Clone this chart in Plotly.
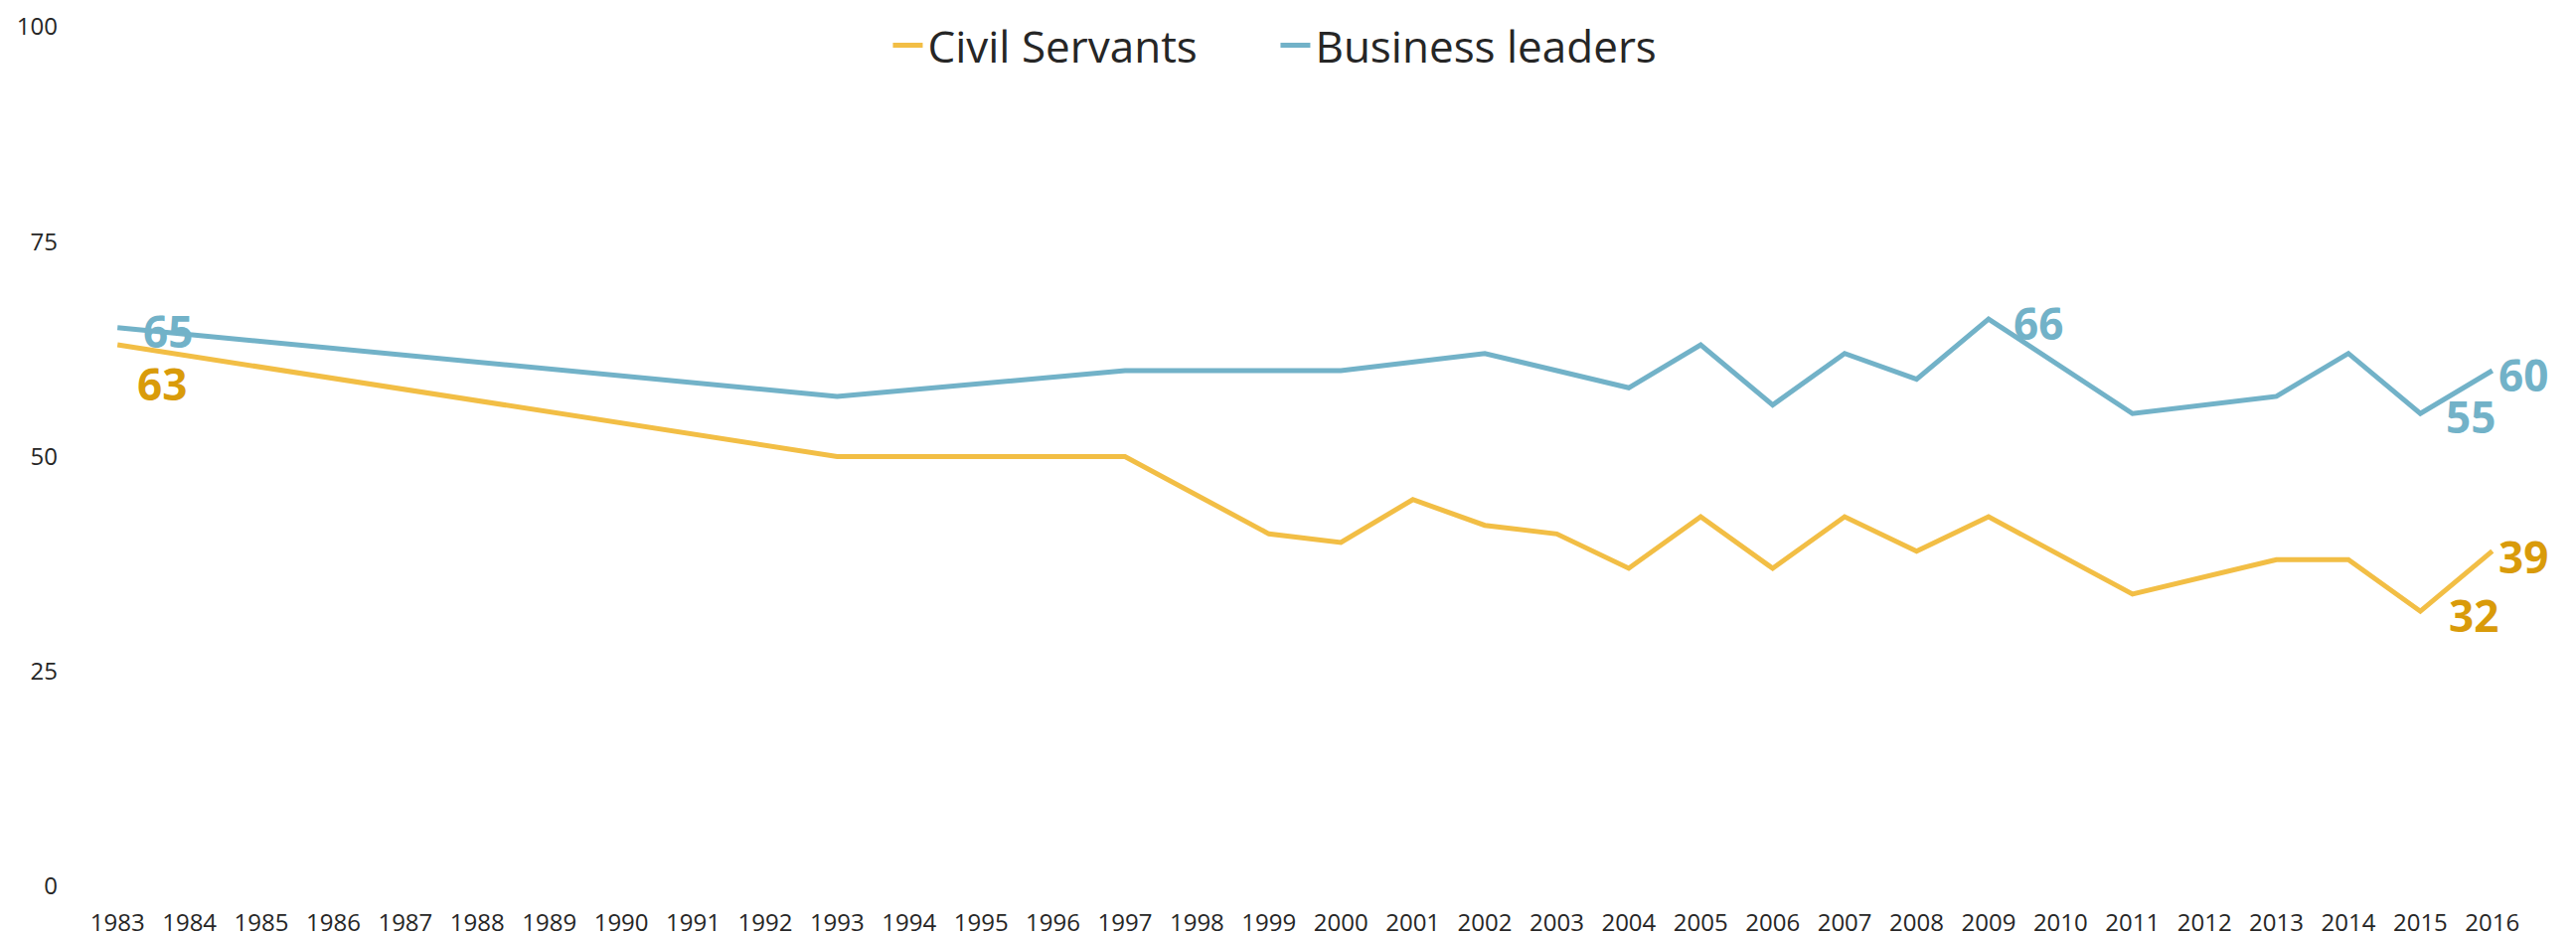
import plotly.graph_objects as go

all_years = [str(y) for y in range(1983, 2017)]

civil_years = ["1983", "1993", "1997", "1999", "2000", "2001", "2002", "2003", "2004", "2005",
               "2006", "2007", "2008", "2009", "2011", "2013", "2014", "2015", "2016"]
civil_values = [63, 50, 50, 41, 40, 45, 42, 41, 37, 43, 37, 43, 39, 43, 34, 38, 38, 32, 39]

biz_years = ["1983", "1993", "1997", "1999", "2000", "2002", "2004", "2005", "2006", "2007",
             "2008", "2009", "2011", "2013", "2014", "2015", "2016"]
biz_values = [65, 57, 60, 60, 60, 62, 58, 63, 56, 62, 59, 66, 55, 57, 62, 55, 60]

# years whose values are labelled on the chart
civil_labelled = ["1983", "2015", "2016"]
biz_labelled = ["1983", "2009", "2015", "2016"]

y_ticks = [0, 25, 50, 75, 100]

# label placement offsets (pixels) - styling only
civil_offsets = {"1983": (18, -39), "2015": (27, -4), "2016": (4, -5)}
biz_offsets = {"1983": (24, -3), "2009": (23, -4), "2015": (24, -3), "2016": (4, -4)}

CIVIL_LINE = "#F2BE45"
CIVIL_TEXT = "#D99B0A"
BIZ_LINE = "#72B2C8"
LABEL_FONT = "Open Sans"

fig = go.Figure()
fig.add_trace(go.Scatter(
    x=civil_years, y=civil_values, name="Civil Servants", mode="lines",
    line=dict(color=CIVIL_LINE, width=5),
))
fig.add_trace(go.Scatter(
    x=biz_years, y=biz_values, name="Business leaders", mode="lines",
    line=dict(color=BIZ_LINE, width=5),
))

for years, values, labelled, offsets, color in [
    (civil_years, civil_values, civil_labelled, civil_offsets, CIVIL_TEXT),
    (biz_years, biz_values, biz_labelled, biz_offsets, BIZ_LINE),
]:
    for yr, val in zip(years, values):
        if yr in labelled:
            dx, dy = offsets[yr]
            fig.add_annotation(
                x=all_years.index(yr), y=val, xref="x", yref="y",
                text="<b>%d</b>" % val, showarrow=False,
                xanchor="left", yanchor="middle", xshift=dx, yshift=dy,
                font=dict(family=LABEL_FONT, size=44, color=color),
            )

fig.update_layout(
    width=2592, height=941,
    margin=dict(l=74, r=56, t=19, b=57, autoexpand=False),
    plot_bgcolor="white", paper_bgcolor="white",
    font=dict(family="Open Sans", color="#262626"),
    legend=dict(orientation="h", x=0.488, xanchor="center",
                yref="container", y=1 - 38 / 941, yanchor="middle",
                font=dict(size=44, color="#262626"), bgcolor="rgba(0,0,0,0)",
                entrywidth=345, entrywidthmode="pixels"),
    xaxis=dict(type="category", categoryorder="array", categoryarray=all_years,
               tickvals=all_years, range=[-0.5, 33.5], showgrid=False, zeroline=False,
               showline=False, tickfont=dict(size=24), ticks="", ticklabelstandoff=20),
    yaxis=dict(range=[0, 100], tickvals=y_ticks, showgrid=False, zeroline=False,
               showline=False, tickfont=dict(size=24), ticks="", ticklabelstandoff=23,
               ticklabeloverflow="allow"),
)

fig.write_html("out.html")
